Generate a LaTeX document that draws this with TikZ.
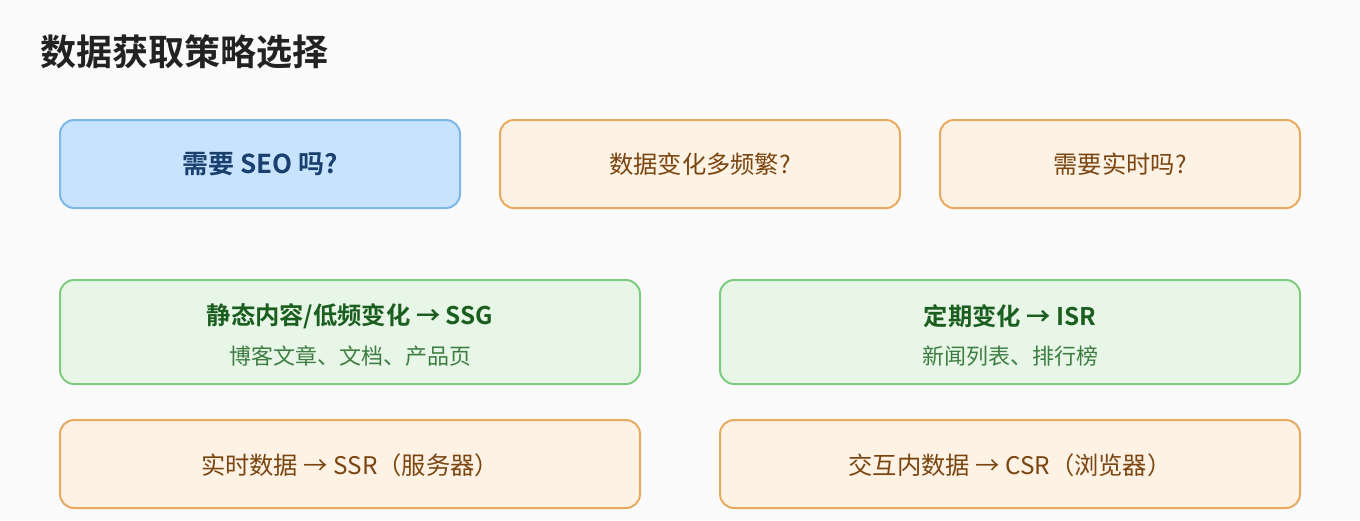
\documentclass[tikz,border=0pt]{standalone}
\usepackage{fontspec}
\setmainfont{Noto Sans CJK SC}[BoldFont={Noto Sans CJK SC Bold}]
\definecolor{bg}{HTML}{FAFAFA}
\definecolor{bluefill}{HTML}{C8E3FD}
\definecolor{blueline}{HTML}{7DB8E8}
\definecolor{bluetext}{HTML}{1A4070}
\definecolor{orfill}{HTML}{FDF2E3}
\definecolor{orline}{HTML}{E8AA62}
\definecolor{ortext}{HTML}{7A4510}
\definecolor{grfill}{HTML}{E8F6E7}
\definecolor{grline}{HTML}{80CB82}
\definecolor{grtext}{HTML}{1B5E20}
\definecolor{grsub}{HTML}{3E7D42}
\definecolor{titletext}{HTML}{222222}
\tikzset{
  box/.style={draw, line width=2pt, rounded corners=14pt, inner sep=0pt},
  bluebox/.style={box, fill=bluefill, draw=blueline},
  orbox/.style={box, fill=orfill, draw=orline},
  grbox/.style={box, fill=grfill, draw=grline},
  lbl/.style={inner sep=0pt, anchor=center},
  main/.style={font=\fontsize{24.3}{28}\selectfont},
  mainb/.style={font=\fontsize{24.3}{28}\selectfont\bfseries},
  sub/.style={font=\fontsize{22}{26}\selectfont},
}
\begin{document}
\begin{tikzpicture}[x=1pt,y=-1pt]
\useasboundingbox (0,0) rectangle (1360,520);
\fill[bg] (0,0) rectangle (1360,520);
\node[inner sep=0pt, anchor=west, text=titletext, font=\fontsize{36}{40}\selectfont\bfseries] (title) at (40,52) {数据获取策略选择};
% row 1
\draw[bluebox] (60,120) rectangle (460,208);
\node[lbl, text=bluetext, font=\fontsize{26}{30}\selectfont\bfseries] (q1) at (260,164) {需要 SEO 吗?};
\draw[orbox] (500,120) rectangle (900,208);
\node[lbl, text=ortext, main] (q2) at (700,164) {数据变化多频繁?};
\draw[orbox] (940,120) rectangle (1300,208);
\node[lbl, text=ortext, main] (q3) at (1120,164) {需要实时吗?};
% row 2
\draw[grbox] (60,280) rectangle (640,384);
\node[lbl, text=grtext, mainb] (ssg) at (350,316) {静态内容/低频变化 → SSG};
\node[lbl, text=grsub, sub] (ssgsub) at (350,356) {博客文章、文档、产品页};
\draw[grbox] (720,280) rectangle (1300,384);
\node[lbl, text=grtext, mainb] (isr) at (1010,316) {定期变化 → ISR};
\node[lbl, text=grsub, sub] (isrsub) at (1010,356) {新闻列表、排行榜};
% row 3
\draw[orbox] (60,420) rectangle (640,508);
\node[lbl, text=ortext, main] (ssr) at (350,465) {实时数据 → SSR（服务器）};
\draw[orbox] (720,420) rectangle (1300,508);
\node[lbl, text=ortext, main] (csr) at (1010,465) {交互内数据 → CSR（浏览器）};
\end{tikzpicture}
\end{document}
